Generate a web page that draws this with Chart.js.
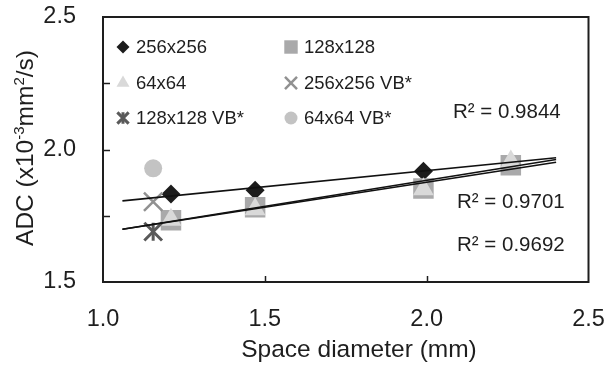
<!DOCTYPE html>
<html>
<head>
<meta charset="utf-8">
<script src="https://cdn.jsdelivr.net/npm/chart.js@4.4.0/dist/chart.umd.min.js"></script>
<style>
  html, body { margin: 0; padding: 0; background: #fff; }
</style>
</head>
<body>
<canvas id="adcChart" width="604" height="365"></canvas>
<script>
// space diameters (mm)
const diameters = [1.21, 1.47, 1.99, 2.26];
const diameterVB = [1.155];

// ADC values (x10^-3 mm2/s)
const adc256 = [1.832, 1.846, 1.918, 1.95];
const adc128 = [1.733, 1.782, 1.853, 1.941];
const adc64 = [1.735, 1.775, 1.85, 1.955];
const adc256VB = [1.803];
const adc128VB = [1.69];
const adc64VB = [1.929];

// trend lines (Excel linear)
const trendX = [1.06, 2.40];
const trend256 = [1.806, 1.969];
const trend128 = [1.699, 1.962];
const trend64 = [1.699, 1.952];
const r2Labels = ['R\u00b2 = 0.9844', 'R\u00b2 = 0.9701', 'R\u00b2 = 0.9692'];

const seriesNames = ['256x256', '128x128', '64x64', '256x256 VB*', '128x128 VB*', '64x64 VB*'];
const xTicks = [1.0, 1.5, 2.0, 2.5];
const yTicks = [1.5, 2.0, 2.5];
const xTitle = 'Space diameter (mm)';
// y title pieces: [text, superscript?]
const yTitle = [['ADC (x10', false], ['-3', true], ['mm', false], ['2', true], ['/s)', false]];

const FONT = '"Liberation Sans", Arial, sans-serif';
const INK = '#1e1e1e';

// marker look for each series (chart size / legend size)
const markers = [
  { style: 'rectRot', color: '#1c1c1c', r: 9.5, lr: 6.5, bw: 0 },
  { style: 'rect', color: '#a9a9aa', r: 14.5, lr: 9.5, bw: 0 },
  { style: 'triangle', color: '#d9d9d9', r: 12, lr: 7.5, bw: 0 },
  { style: 'crossRot', color: '#919191', r: 13, lr: 8.5, bw: 2.5 },
  { style: 'asterisk', color: '#5a5a5a', r: 12.5, lr: 8, bw: 3 },
  { style: 'circle', color: '#c3c3c3', r: 9, lr: 6.5, bw: 0 }
];

const pts = (xs, ys) => ys.map((y, i) => ({ x: xs[i], y: y }));

function markerSet(i, xs, ys, order) {
  const m = markers[i];
  const style = m.style === 'asterisk' ? 'crossRot' : m.style;
  return {
    label: seriesNames[i],
    data: pts(xs, ys),
    pointStyle: style,
    pointRadius: m.r,
    pointHoverRadius: m.r,
    backgroundColor: m.color,
    borderColor: m.color,
    pointBorderWidth: m.bw,
    showLine: false,
    order: order
  };
}

function trendSet(ys) {
  return {
    label: 'trend',
    data: pts(trendX, ys),
    showLine: true,
    pointRadius: 0,
    borderColor: '#111',
    borderWidth: 1.6,
    fill: false,
    order: 0
  };
}

const datasets = [
  trendSet(trend256),
  trendSet(trend128),
  trendSet(trend64),
  markerSet(0, diameters, adc256, 6),
  markerSet(1, diameters, adc128, 5),
  markerSet(2, diameters, adc64, 4),
  markerSet(3, diameterVB, adc256VB, 3),
  markerSet(4, diameterVB, adc128VB, 2),
  // vertical bar of the asterisk marker
  {
    label: 'asterisk bar',
    data: pts(diameterVB, adc128VB),
    pointStyle: 'line',
    rotation: 90,
    pointRadius: 9,
    borderColor: markers[4].color,
    pointBorderWidth: 3,
    showLine: false,
    order: 2
  },
  markerSet(5, diameterVB, adc64VB, 1)
];

function drawMarker(ctx, i, x, y, r) {
  const m = markers[i];
  ctx.save();
  ctx.fillStyle = m.color;
  ctx.strokeStyle = m.color;
  ctx.lineWidth = m.bw;
  if (m.style === 'asterisk') {
    Chart.helpers.drawPoint(ctx, { pointStyle: 'crossRot', radius: r, borderWidth: m.bw, rotation: 0 }, x, y);
    Chart.helpers.drawPoint(ctx, { pointStyle: 'line', radius: r * 0.72, borderWidth: m.bw, rotation: 90 }, x, y);
  } else {
    Chart.helpers.drawPoint(ctx, { pointStyle: m.style, radius: r, borderWidth: m.bw, rotation: 0 }, x, y);
  }
  ctx.restore();
}

const framePlugin = {
  id: 'frame',
  afterDraw(chart) {
    const { ctx, chartArea: a, scales } = chart;
    ctx.save();
    ctx.strokeStyle = INK;
    ctx.lineWidth = 2;
    ctx.strokeRect(a.left, a.top, a.right - a.left, a.bottom - a.top);
    ctx.lineWidth = 1.5;
    // inward tick marks
    scales.y.ticks.forEach(t => {
      if (t.value <= scales.y.min || t.value >= scales.y.max) return;
      const py = Math.round(scales.y.getPixelForValue(t.value)) + 0.5;
      ctx.beginPath(); ctx.moveTo(a.left, py); ctx.lineTo(a.left + 7, py); ctx.stroke();
    });
    scales.x.ticks.forEach(t => {
      if (t.value <= scales.x.min || t.value >= scales.x.max) return;
      const px = Math.round(scales.x.getPixelForValue(t.value)) + 0.5;
      ctx.beginPath(); ctx.moveTo(px, a.bottom); ctx.lineTo(px, a.bottom - 6); ctx.stroke();
    });

    // legend, 3 rows x 2 columns
    const cols = [123, 291];
    const rows = [47, 83, 118];
    ctx.font = '18.5px ' + FONT;
    ctx.textBaseline = 'middle';
    seriesNames.forEach((name, i) => {
      const x = cols[i % 2], y = rows[Math.floor(i / 2)];
      drawMarker(ctx, i, x, y, markers[i].lr);
      ctx.fillStyle = INK;
      ctx.fillText(name, x + 13, y + 1);
    });

    // R squared labels
    ctx.fillStyle = INK;
    ctx.font = '20.5px ' + FONT;
    const r2x = [453, 457, 457];
    const r2y = [112, 202.5, 245];
    r2Labels.forEach((t, i) => ctx.fillText(t, r2x[i], r2y[i]));

    // axis titles
    ctx.textBaseline = 'alphabetic';
    ctx.textAlign = 'center';
    ctx.font = '24.5px ' + FONT;
    ctx.fillText(xTitle, 359, 357);

    ctx.textAlign = 'left';
    const big = '24.5px ' + FONT, small = '15px ' + FONT;
    let total = 0;
    yTitle.forEach(([t, sup]) => { ctx.font = sup ? small : big; total += ctx.measureText(t).width; });
    ctx.translate(33, 148);
    ctx.rotate(-Math.PI / 2);
    let cx = -total / 2;
    yTitle.forEach(([t, sup]) => {
      ctx.font = sup ? small : big;
      ctx.fillText(t, cx, sup ? -9.5 : 0);
      cx += ctx.measureText(t).width;
    });
    ctx.restore();
  }
};

new Chart(document.getElementById('adcChart'), {
  type: 'scatter',
  data: { datasets: datasets },
  options: {
    responsive: false,
    devicePixelRatio: 1,
    animation: false,
    layout: { padding: { top: 17, right: 14, left: 0, bottom: 0 } },
    plugins: {
      legend: { display: false },
      tooltip: { enabled: false }
    },
    scales: {
      x: {
        type: 'linear',
        min: 1.0,
        max: 2.5,
        afterBuildTicks: s => { s.ticks = xTicks.map(v => ({ value: v })); },
        ticks: {
          callback: v => v.toFixed(1),
          color: INK,
          font: { family: FONT, size: 23.5 },
          padding: 23,
          maxRotation: 0
        },
        grid: { display: false, drawTicks: false },
        border: { display: false },
        afterFit: s => { s.height = 83; s.paddingLeft = 0; s.paddingRight = 0; }
      },
      y: {
        type: 'linear',
        min: 1.5,
        max: 2.5,
        afterBuildTicks: s => {
          s.ticks = [1.5, 1.75, 2.0, 2.25, 2.5].map(v => ({ value: v }));
        },
        ticks: {
          callback: v => (yTicks.some(t => Math.abs(t - v) < 1e-6) ? v.toFixed(1) : ''),
          color: INK,
          font: { family: FONT, size: 23.5 },
          padding: 27
        },
        grid: { display: false, drawTicks: false },
        border: { display: false },
        afterFit: s => { s.width = 103; s.paddingTop = 0; s.paddingBottom = 0; }
      }
    }
  },
  plugins: [framePlugin]
});
</script>
</body>
</html>
